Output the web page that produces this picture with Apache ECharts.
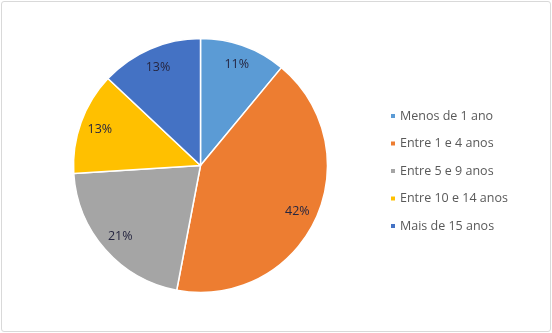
<!DOCTYPE html>
<html><head><meta charset="utf-8">
<script src="https://cdn.jsdelivr.net/npm/echarts@6/dist/echarts.min.js"></script>
<style>
html,body{margin:0;padding:0;background:#fff;}
#frame{position:absolute;left:1px;top:1px;width:550px;height:331px;box-sizing:border-box;border:1px solid #d9d9d9;border-radius:3px;}
#c{position:absolute;left:0;top:0;width:552px;height:333px;}
</style></head>
<body><div id="frame"></div><div id="c"></div>
<script>
var categories = ['Menos de 1 ano','Entre 1 e 4 anos','Entre 5 e 9 anos','Entre 10 e 14 anos','Mais de 15 anos'];
var values = [11, 42, 21, 13, 13];
var colors = ['#5B9BD5','#ED7D31','#A5A5A5','#FFC000','#4472C4'];

var data = categories.map(function(n,i){return {name:n, value:values[i], itemStyle:{color:colors[i]}};});
var labelData = categories.map(function(n,i){return {name:n, value:values[i]};});

var chart = echarts.init(document.getElementById('c'), null, {renderer:'canvas'});
chart.setOption({
  animation:false,
  legend:{
    orient:'vertical', left:384, top:104, itemWidth:6, itemHeight:6, icon:'rect', itemGap:13.5,
    data:categories,
    textStyle:{fontFamily:'Open Sans, sans-serif', fontSize:12.5, color:'#595959', lineHeight:14, padding:[0,0,0,-1]}
  },
  series:[
    {type:'pie', center:[200.5,165.5], radius:[0,127], startAngle:90, clockwise:true,
     data:data, label:{show:false}, labelLine:{show:false},
     itemStyle:{borderColor:'#fff', borderWidth:1.5}, emphasis:{disabled:true}},
    {type:'pie', center:[200.5,165.5], radius:[81,127], startAngle:90, clockwise:true, silent:true,
     legendHoverLink:false,
     data:labelData, itemStyle:{color:'rgba(0,0,0,0)', borderWidth:0},
     label:{show:true, position:'inside', formatter:'{c}%', fontFamily:'Open Sans, sans-serif', fontSize:12.5, color:'#262640'},
     labelLine:{show:false}, emphasis:{disabled:true}}
  ]
});
</script></body></html>
